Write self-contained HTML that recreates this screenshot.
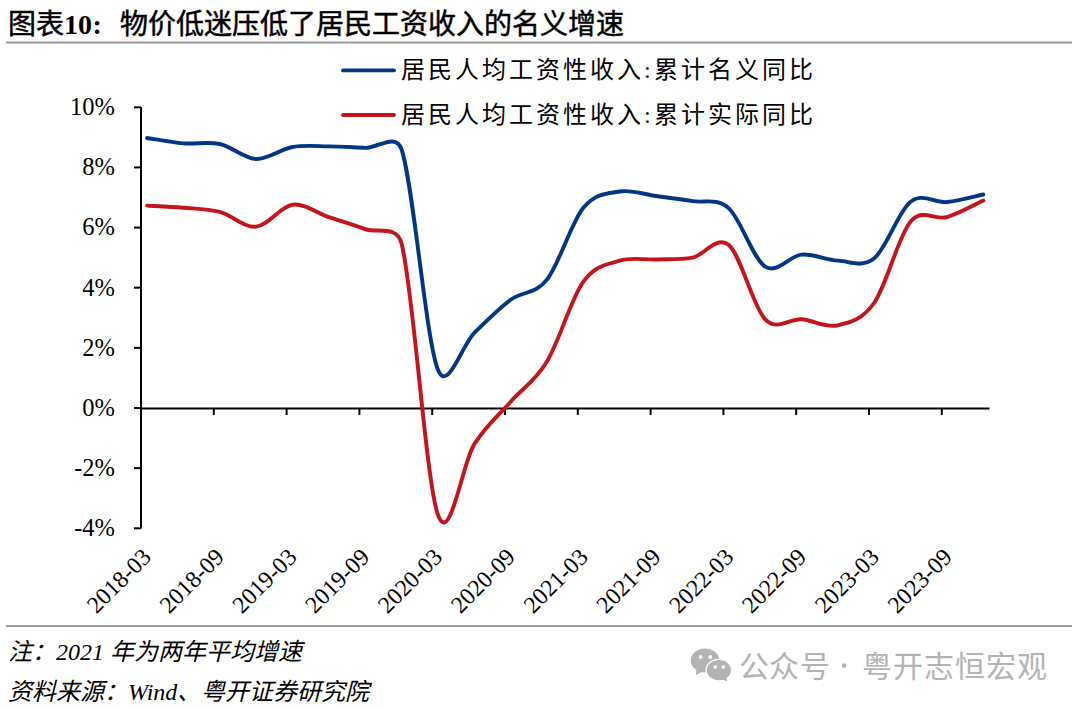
<!DOCTYPE html>
<html lang="zh-CN"><head><meta charset="utf-8">
<style>
html,body{margin:0;padding:0;background:#fff;}
body{width:1080px;height:709px;position:relative;overflow:hidden;}
svg{position:absolute;left:0;top:0;}
.yl{font-family:"Liberation Serif",serif;font-size:24.5px;fill:#000;}
.xl{font-family:"Liberation Serif",serif;font-size:23.8px;fill:#000;}
.t{position:absolute;white-space:nowrap;line-height:1;}
#title b{-webkit-text-stroke:0;}
#title{left:8px;top:11px;font-family:"Liberation Serif",serif;font-weight:500;font-size:28px;color:#000;-webkit-text-stroke:0.5px #000;}
.leg{font-weight:300;left:401px;font-family:"Liberation Serif",serif;font-size:24px;letter-spacing:3px;color:#000;}
.note{font-weight:300;left:8px;font-family:"Liberation Serif",serif;font-style:italic;font-size:24px;color:#000;}
.wm{font-family:"Liberation Sans",sans-serif;color:#b3b3b3;}
</style></head><body>
<svg width="1080" height="709" viewBox="0 0 1080 709">
<rect x="6" y="41.5" width="1066" height="2" fill="#9c9c9c"/>
<rect x="6" y="625" width="1066" height="2" fill="#9c9c9c"/>
<path d="M141,107 V528.5" stroke="#000" stroke-width="2" fill="none"/>
<path d="M134,107.30 H141" stroke="#000" stroke-width="2"/>
<text x="115" y="115.10" text-anchor="end" class="yl">10%</text>
<path d="M134,167.44 H141" stroke="#000" stroke-width="2"/>
<text x="115" y="175.24" text-anchor="end" class="yl">8%</text>
<path d="M134,227.58 H141" stroke="#000" stroke-width="2"/>
<text x="115" y="235.38" text-anchor="end" class="yl">6%</text>
<path d="M134,287.72 H141" stroke="#000" stroke-width="2"/>
<text x="115" y="295.52" text-anchor="end" class="yl">4%</text>
<path d="M134,347.86 H141" stroke="#000" stroke-width="2"/>
<text x="115" y="355.66" text-anchor="end" class="yl">2%</text>
<path d="M134,408.00 H141" stroke="#000" stroke-width="2"/>
<text x="115" y="415.80" text-anchor="end" class="yl">0%</text>
<path d="M134,468.14 H141" stroke="#000" stroke-width="2"/>
<text x="115" y="475.94" text-anchor="end" class="yl">-2%</text>
<path d="M134,528.28 H141" stroke="#000" stroke-width="2"/>
<text x="115" y="536.08" text-anchor="end" class="yl">-4%</text>
<path d="M140,408.5 H989.5" stroke="#000" stroke-width="2" fill="none"/>
<text transform="translate(152.50,558.30) rotate(-45)" text-anchor="end" class="xl">2018-03</text>
<path d="M213.80,408.5 V415" stroke="#000" stroke-width="2"/>
<text transform="translate(225.30,558.30) rotate(-45)" text-anchor="end" class="xl">2018-09</text>
<path d="M286.60,408.5 V415" stroke="#000" stroke-width="2"/>
<text transform="translate(298.10,558.30) rotate(-45)" text-anchor="end" class="xl">2019-03</text>
<path d="M359.40,408.5 V415" stroke="#000" stroke-width="2"/>
<text transform="translate(370.90,558.30) rotate(-45)" text-anchor="end" class="xl">2019-09</text>
<path d="M432.20,408.5 V415" stroke="#000" stroke-width="2"/>
<text transform="translate(443.70,558.30) rotate(-45)" text-anchor="end" class="xl">2020-03</text>
<path d="M505.00,408.5 V415" stroke="#000" stroke-width="2"/>
<text transform="translate(516.50,558.30) rotate(-45)" text-anchor="end" class="xl">2020-09</text>
<path d="M577.80,408.5 V415" stroke="#000" stroke-width="2"/>
<text transform="translate(589.30,558.30) rotate(-45)" text-anchor="end" class="xl">2021-03</text>
<path d="M650.60,408.5 V415" stroke="#000" stroke-width="2"/>
<text transform="translate(662.10,558.30) rotate(-45)" text-anchor="end" class="xl">2021-09</text>
<path d="M723.40,408.5 V415" stroke="#000" stroke-width="2"/>
<text transform="translate(734.90,558.30) rotate(-45)" text-anchor="end" class="xl">2022-03</text>
<path d="M796.20,408.5 V415" stroke="#000" stroke-width="2"/>
<text transform="translate(807.70,558.30) rotate(-45)" text-anchor="end" class="xl">2022-09</text>
<path d="M869.00,408.5 V415" stroke="#000" stroke-width="2"/>
<text transform="translate(880.50,558.30) rotate(-45)" text-anchor="end" class="xl">2023-03</text>
<path d="M941.80,408.5 V415" stroke="#000" stroke-width="2"/>
<text transform="translate(953.30,558.30) rotate(-45)" text-anchor="end" class="xl">2023-09</text>
<path d="M147.06,205.63 C153.12,205.98 171.30,206.68 183.42,207.73 C195.54,208.79 207.66,208.79 219.78,211.94 C231.90,215.10 244.02,227.88 256.14,226.68 C268.26,225.48 280.38,206.33 292.50,204.73 C304.62,203.12 316.74,213.00 328.86,217.06 C340.98,221.11 353.10,224.67 365.22,229.08 C377.34,233.49 396.75,224.56 401.58,243.52 C413.70,291.13 425.82,481.32 437.94,514.75 C450.06,548.18 462.18,462.93 474.30,444.08 C486.42,425.24 498.54,415.47 510.66,401.69 C522.78,387.90 534.90,381.39 547.02,361.39 C559.14,341.39 571.26,298.50 583.38,281.71 C595.50,264.92 607.62,264.37 619.74,260.66 C631.86,256.95 643.98,259.96 656.10,259.45 C668.22,258.95 680.34,260.06 692.46,257.65 C704.58,255.24 716.70,234.75 728.82,245.02 C740.94,255.29 753.06,306.91 765.18,319.29 C777.30,331.67 789.42,318.29 801.54,319.29 C813.66,320.30 825.78,328.06 837.90,325.31 C850.02,322.55 862.14,320.05 874.26,302.75 C886.38,285.46 898.50,235.85 910.62,221.57 C922.47,207.60 934.86,220.56 946.98,217.06 C959.10,213.55 977.28,203.27 983.34,200.52" stroke="#c2151c" stroke-width="3.9" fill="none" stroke-linecap="round" stroke-linejoin="round"/>
<path d="M147.06,137.97 C153.12,138.87 171.30,142.38 183.42,143.38 C195.54,144.39 207.66,141.38 219.78,143.99 C231.90,146.59 244.02,158.52 256.14,159.02 C268.26,159.52 280.38,149.10 292.50,146.99 C304.62,144.89 316.74,146.24 328.86,146.39 C340.98,146.54 353.10,147.39 365.22,147.89 C377.34,148.40 395.91,132.11 401.58,149.40 C413.70,186.38 425.82,339.24 437.94,369.81 C447.50,393.92 462.18,344.50 474.30,332.82 C486.42,321.15 498.54,308.62 510.66,299.75 C522.78,290.88 534.90,294.94 547.02,279.60 C559.14,264.27 571.26,222.42 583.38,207.73 C595.50,193.05 607.62,193.45 619.74,191.50 C631.86,189.54 643.98,194.40 656.10,196.01 C668.22,197.61 680.34,199.06 692.46,201.12 C704.58,203.17 716.70,197.41 728.82,208.34 C740.94,219.26 753.06,258.95 765.18,266.67 C777.30,274.39 789.42,255.65 801.54,254.64 C813.66,253.64 825.78,260.06 837.90,260.66 C850.02,261.26 862.14,268.07 874.26,258.25 C886.38,248.43 898.50,211.09 910.62,201.72 C922.74,192.35 934.86,203.22 946.98,202.02 C959.10,200.82 977.28,195.76 983.34,194.50" stroke="#023583" stroke-width="3.9" fill="none" stroke-linecap="round" stroke-linejoin="round"/>
<path d="M343,70.4 H394" stroke="#023583" stroke-width="3.8" stroke-linecap="round"/>
<path d="M343,115 H394" stroke="#c2151c" stroke-width="3.8" stroke-linecap="round"/>
<g fill="#b3b3b3">
<ellipse cx="705.1" cy="660.5" rx="14.3" ry="12"/>
<path d="M696.5,669 L695.8,674.8 L703.5,671.2 Z"/>
<ellipse cx="718.9" cy="670.2" rx="12.8" ry="10.8" stroke="#fff" stroke-width="1.3"/>
<path d="M722.5,679.5 L727.2,681.6 L726.2,676.5 Z"/>
</g>
<g fill="#fff">
<circle cx="700.6" cy="656.9" r="1.9"/><circle cx="710.3" cy="656.9" r="1.9"/>
<circle cx="715.2" cy="667" r="1.7"/><circle cx="723.3" cy="667" r="1.7"/>
</g>
<g fill="#b3b3b3"><circle cx="844.1" cy="665.6" r="2.3"/>
</g>
</svg>
<div class="t" id="title">图表<b>10</b><b style="margin-left:0.6px;margin-right:18px">:</b>物价低迷压低了居民工资收入的名义增速</div>
<div class="t leg" style="top:58px">居民人均工资性收入:累计名义同比</div>
<div class="t leg" style="top:103px">居民人均工资性收入:累计实际同比</div>
<div class="t note" style="top:640px">注：2021 年为两年平均增速</div>
<div class="t note" style="top:680px">资料来源：Wind、粤开证券研究院</div>
<div class="t wm" style="left:738.5px;top:651.5px;font-size:30px;letter-spacing:0.9px">公众号</div>
<div class="t wm" style="left:862px;top:651.5px;font-size:30px;letter-spacing:0.96px">粤开志恒宏观</div>
</body></html>
